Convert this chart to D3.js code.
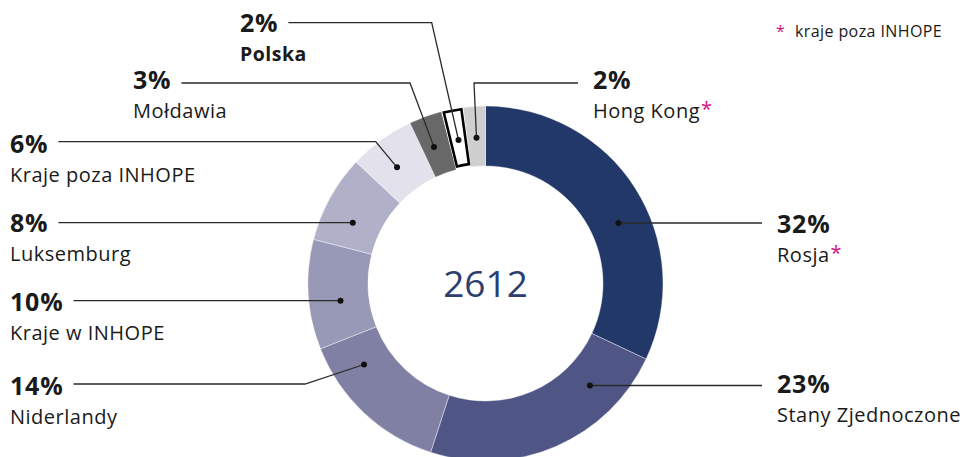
<!DOCTYPE html>
<html><head><meta charset="utf-8">
<script src="https://cdn.jsdelivr.net/npm/d3@7"></script>
<style>
html,body{margin:0;padding:0;background:#fff;}
svg text{font-family:"Open Sans",Lato,sans-serif;fill:#1a1a1a;}
</style></head>
<body><svg id="c" width="964" height="457"></svg>
<script>
// ---- data ----
const categories = ["Rosja","Stany Zjednoczone","Niderlandy","Kraje w INHOPE","Luksemburg","Kraje poza INHOPE","Mołdawia","Polska","Hong Kong"];
const shares = [32,23,14,10,8,6,3,2,2];
const outsideInhope = [true,false,false,false,false,false,false,false,true];
const totalLabel = "2612";
const legendLabel = "kraje poza INHOPE";

// ---- styling / layout ----
const colors = ["#213869","#4f5686","#7f80a3","#9899b6","#b1b0c9","#e2e1ec","#686868","#ffffff","#cfcfcf"];
const cx = 485.5, cy = 283.5, rOuter = 177.5, rInner = 117.5, rDot = 146;
const layout = [
  {side:"r", lineY:223, lineEnd:762, tx:777, ty:233},
  {side:"r", lineY:385.5, lineEnd:762, tx:777, ty:393},
  {side:"l", lineY:384, elbow:[305,384], t:0.76, tx:10, ty:395},
  {side:"l", lineY:300.7, tx:10, ty:311},
  {side:"l", lineY:222.7, tx:10, ty:232},
  {side:"l", lineY:141.7, elbow:[375.7,141.7], t:0.44, tx:10, ty:153},
  {side:"l", lineY:83, elbow:[410,83], t:0.42, tx:133, ty:89},
  {side:"l", lineY:22.7, elbow:[431.7,22.7], t:0.52, tx:240, ty:32, boldName:true},
  {side:"r", lineY:83, elbow:[474,83], t:0.51, lineEnd:578, tx:593, ty:89}
];

const svg = d3.select("#c");
const g = svg.append("g").attr("transform",`translate(${cx},${cy})`);
const pie = d3.pie().sort(null).value(d=>d)(shares);
const arc = d3.arc().innerRadius(rInner).outerRadius(rOuter);

g.selectAll("path.seg").data(pie).join("path")
  .attr("class","seg")
  .attr("d",arc)
  .attr("fill",(d,i)=>colors[i])
  .attr("stroke",(d,i)=>i===7?"none":"#ffffff")
  .attr("stroke-width",0.4);

const polArc = d3.arc().innerRadius(rInner+3).outerRadius(rOuter-1.5)
  .startAngle(d=>d.startAngle+0.012).endAngle(d=>d.endAngle-0.012);
g.append("path").datum(pie[7]).attr("d",polArc)
  .attr("fill","#fff").attr("stroke","#000").attr("stroke-width",2.6);

svg.append("text").attr("x",cx).attr("y",cy+13).attr("text-anchor","middle")
  .style("font-size","37px").style("fill","#2c3e70").text(totalLabel);

const lab = svg.append("g");
pie.forEach((d,i)=>{
  const L = layout[i];
  let dot;
  if (L.elbow) {
    const a = d.startAngle + L.t*(d.endAngle-d.startAngle);
    dot = [cx + rDot*Math.sin(a), cy - rDot*Math.cos(a)];
  } else {
    const dy = L.lineY - cy;
    const dx = Math.sqrt(rDot*rDot - dy*dy);
    dot = [cx + (L.side==="r"?dx:-dx), L.lineY];
  }
  const pct = lab.append("text").attr("x",L.tx).attr("y",L.ty)
    .style("font-size","25px").style("font-weight","700").style("letter-spacing","0.8px").text(shares[i]+"%");
  const name = lab.append("text").attr("x",L.tx).attr("y",L.ty+28.5)
    .style("font-size",L.boldName?"19.5px":"20px").style("font-weight",L.boldName?"700":"400")
    .style("letter-spacing","0.5px");
  name.append("tspan").text(categories[i]);
  if (outsideInhope[i]) name.append("tspan").attr("dx",1).attr("dy",-2).style("font-size","20px").style("fill","#d0137b").text("*");
  let endX;
  if (L.side==="l") endX = L.tx + pct.node().getComputedTextLength() + 10;
  else endX = L.lineEnd;
  const pts = [dot];
  if (L.elbow) pts.push(L.elbow);
  pts.push([endX, L.lineY]);
  lab.append("path").attr("d",d3.line()(pts)).attr("fill","none")
    .attr("stroke","#2a2a2a").attr("stroke-width",1.3);
  lab.append("circle").attr("cx",dot[0]).attr("cy",dot[1]).attr("r",3).attr("fill","#111");
});

svg.append("text").attr("x",776).attr("y",37).style("font-size","16px").style("fill","#d0137b").text("*");
svg.append("text").attr("x",795).attr("y",37).style("font-size","16px").style("letter-spacing","0.4px").text(legendLabel);
</script></body></html>
